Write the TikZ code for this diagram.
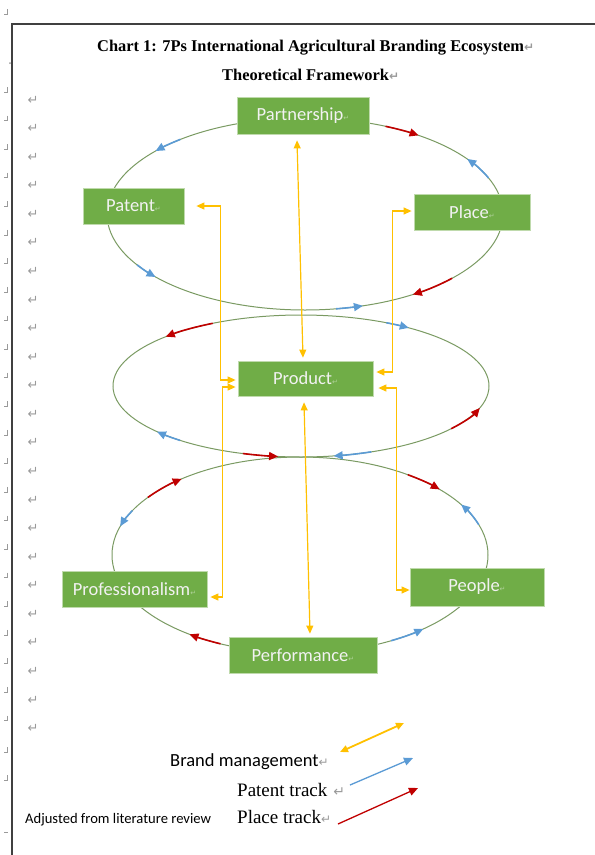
\documentclass[tikz,border=0pt]{standalone}
\usepackage{fontspec}
\setmainfont{Liberation Serif}
\newfontfamily\carlito{Carlito}
\newfontfamily\dejavu{DejaVu Sans}
\usetikzlibrary{arrows.meta}
\definecolor{boxgreen}{HTML}{70AD47}
\definecolor{brandyellow}{HTML}{FFC000}
\definecolor{trackblue}{HTML}{5B9BD5}
\definecolor{trackred}{HTML}{C00000}
\definecolor{ringcol}{HTML}{7A9A62}
\definecolor{markgray}{HTML}{9A9A9A}
\definecolor{framegray}{HTML}{404040}
\newcommand\pmark[1][12]{{\dejavu\fontsize{#1}{#1}\selectfont\color{markgray}↵}}
\newcommand\bmark{{\dejavu\fontsize{7}{7}\selectfont\color{boxgreen!55!white}↵}}
\newcommand\trk[6]{\draw[#1] ([shift={(#5:#3 and #4)}]#2) arc[start angle=#5,end angle=#6,x radius=#3,y radius=#4];}
\tikzset{
  pbox/.style={fill=boxgreen, draw=boxgreen!45!white, line width=0.8pt, inner sep=0pt,
    text=white!95!black, font=\carlito\fontsize{18.5}{20}\selectfont},
  ring/.style={draw=ringcol, line width=1pt},
  brand/.style={draw=brandyellow, line width=1.2pt, {Triangle[length=8pt,width=7pt]}-{Triangle[length=8pt,width=7pt]}},
  bluetrk/.style={draw=trackblue, line width=1.6pt, -{Triangle[length=9pt,width=8pt]}},
  redtrk/.style={draw=trackred, line width=1.6pt, -{Triangle[length=9pt,width=8pt]}},
  lmark/.style={font=\dejavu\fontsize{13}{13}\selectfont, text=markgray, inner sep=0pt},
}
\begin{document}
\begin{tikzpicture}[x=1pt,y=-1pt]
\useasboundingbox (0,0) rectangle (595,855);
% page frame
\draw[framegray, line width=1.3pt] (595,24) -- (12,24) -- (12,855);
% left margin marks
\foreach \i in {0,...,22} {
  \draw[markgray, line width=0.6pt] (7,{90+28.57*\i-3}) -- (7,{90+28.57*\i+2}) -- (4,{90+28.57*\i+2});
}
\foreach \yy in {12,750,778} {
  \draw[markgray, line width=0.6pt] (7,\yy-3) -- (7,\yy+2) -- (4,\yy+2);
}
\draw[markgray, line width=0.6pt] (4,832) -- (8,832);
\fill[markgray] (10,63) circle (1);
% paragraph marks column
\foreach \i in {0,...,22} {
  \node[lmark] (pm\i) at (33,{100+28.57*\i}) {↵};
}
% title
\node[anchor=base west, inner sep=0pt, font=\bfseries\fontsize{16.4}{18}\selectfont] (title1) at (97,51)
  {Chart 1: 7Ps International Agricultural Branding Ecosystem\pmark};
\node[anchor=base west, inner sep=0pt, font=\bfseries\fontsize{16.4}{18}\selectfont] (title2) at (222,80)
  {Theoretical Framework\pmark};
% ellipses
\coordinate (ctop) at (305,214);
\coordinate (cmid) at (301,386);
\coordinate (cbot) at (300,555);
\draw[ring] (ctop) ellipse[x radius=198, y radius=96];
\draw[ring] (cmid) ellipse[x radius=188, y radius=71];
\draw[ring] (cbot) ellipse[x radius=188, y radius=98];
% tracks on top ellipse
\trk{bluetrk}{ctop}{198}{96}{231}{221}
\trk{redtrk}{ctop}{198}{96}{294}{305}
\trk{bluetrk}{ctop}{198}{96}{338}{325}
\trk{bluetrk}{ctop}{198}{96}{148}{139}
\trk{redtrk}{ctop}{198}{96}{42}{57}
\trk{bluetrk}{ctop}{198}{96}{81}{73}
% tracks on middle ellipse
\trk{bluetrk}{cmid}{188}{71}{297}{305}
\trk{redtrk}{cmid}{188}{71}{242}{224}
\trk{redtrk}{cmid}{188}{71}{37}{18}
\trk{bluetrk}{cmid}{188}{71}{130}{140}
\trk{redtrk}{cmid}{188}{71}{108}{97}
\trk{bluetrk}{cmid}{188}{71}{68}{80}
% tracks on bottom ellipse
\trk{redtrk}{cbot}{188}{98}{216}{231}
\trk{bluetrk}{cbot}{188}{98}{207}{197}
\trk{redtrk}{cbot}{188}{98}{305}{318}
\trk{bluetrk}{cbot}{188}{98}{342}{329}
\trk{redtrk}{cbot}{188}{98}{115}{126}
\trk{bluetrk}{cbot}{188}{98}{61}{49}
% boxes
\node[pbox, minimum width=132pt, minimum height=37pt] (partnership) at (303,115.5) {Partnership\bmark};
\node[pbox, minimum width=101pt, minimum height=36pt] (patent) at (133.5,206) {Patent\bmark};
\node[pbox, minimum width=116pt, minimum height=36pt] (place) at (472,212) {Place\bmark};
\node[pbox, minimum width=135pt, minimum height=35pt] (product) at (305.5,378.5) {Product\bmark};
\node[pbox, minimum width=145pt, minimum height=36pt] (professionalism) at (134.5,589) {Professionalism\bmark};
\node[pbox, minimum width=134pt, minimum height=38pt] (people) at (477,587) {People\bmark};
\node[pbox, minimum width=148pt, minimum height=36pt] (performance) at (303,655) {Performance\bmark};
% brand management connectors
\draw[brand] ([shift={(-6,6)}]partnership.south) -- ([shift={(-2.5,-3)}]product.north);
\draw[brand] ([shift={(12,0)}]patent.east) -- ++(24,0) |- ([shift={(-2,1.5)}]product.west);
\draw[brand] ([shift={(-2,-1)}]place.west) -- ++(-19,0) |- ([shift={(3,-6.5)}]product.east);
\draw[brand] ([shift={(-2,8.5)}]product.west) -- ++(-13,0) |- ([shift={(3,8)}]professionalism.east);
\draw[brand] ([shift={(5,9.5)}]product.east) -- ++(18,0) |- ([shift={(0,3)}]people.west);
\draw[brand] ([shift={(-1.5,6)}]product.south) -- ([shift={(7,-3)}]performance.north);
% legend
\node[anchor=base west, inner sep=0pt, font=\carlito\fontsize{18.5}{20}\selectfont] (brandlbl) at (170,766) {Brand management\pmark};
\node[anchor=base west, inner sep=0pt, font=\fontsize{19}{21}\selectfont] (patentlbl) at (237,796) {Patent track\hspace{6pt}\pmark[14]};
\node[anchor=base west, inner sep=0pt, font=\fontsize{19}{21}\selectfont] (placelbl) at (237,823) {Place track\pmark};
\node[anchor=base west, inner sep=0pt, font=\carlito\fontsize{14.6}{16}\selectfont] (adjusted) at (25,823) {Adjusted from literature review};
\coordinate (lgy1) at (340,752);
\coordinate (lgy2) at (404,723);
\coordinate (lgb1) at (350,785);
\coordinate (lgb2) at (413,758);
\coordinate (lgr1) at (338,824);
\coordinate (lgr2) at (418,788);
\draw[brand, line width=1.8pt] (lgy1) -- (lgy2);
\draw[bluetrk, line width=1.3pt] (lgb1) -- (lgb2);
\draw[redtrk, line width=1.3pt] (lgr1) -- (lgr2);
\end{tikzpicture}
\end{document}
